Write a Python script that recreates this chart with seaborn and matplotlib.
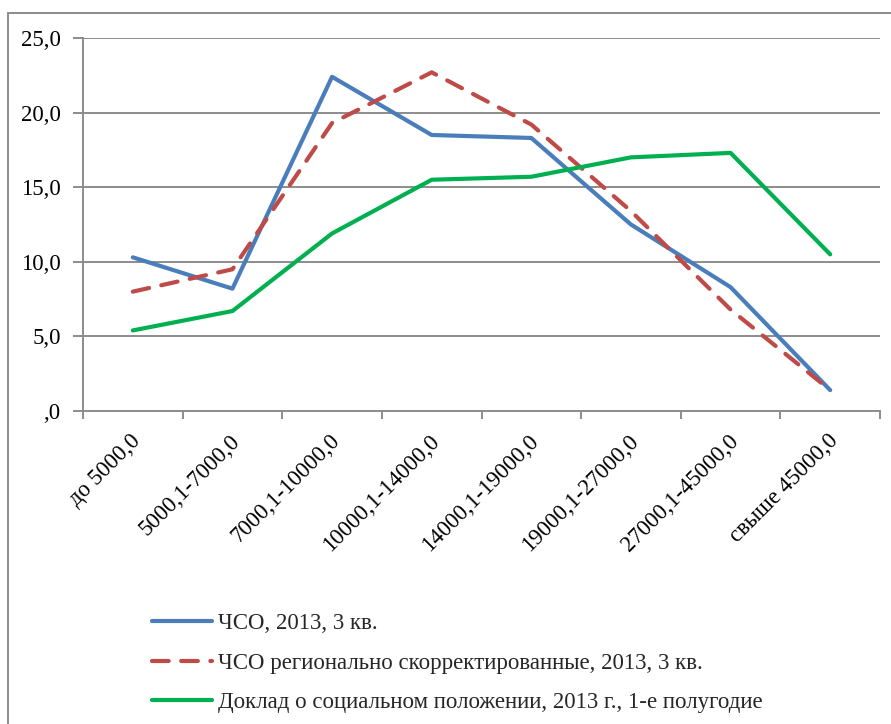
import numpy as np
import pandas as pd
import matplotlib
matplotlib.use("Agg")
import matplotlib.pyplot as plt
import matplotlib.transforms as mtransforms
from matplotlib.patches import Rectangle
import seaborn as sns

# -- Data ------------------------------------------------------------------
categories = ["до 5000,0", "5000,1-7000,0", "7000,1-10000,0", "10000,1-14000,0",
              "14000,1-19000,0", "19000,1-27000,0", "27000,1-45000,0", "свыше 45000,0"]
cso = [10.3, 8.2, 22.4, 18.5, 18.3, 12.5, 8.3, 1.4]
cso_reg = [8.0, 9.5, 19.3, 22.7, 19.2, 13.4, 6.8, 1.4]
doklad = [5.4, 6.7, 11.9, 15.5, 15.7, 17.0, 17.3, 10.5]
series_names = ["ЧСО, 2013, 3 кв.",
                "ЧСО регионально скорректированные, 2013, 3 кв.",
                "Доклад о социальном положении, 2013 г., 1-е полугодие"]
y_ticks = [0, 5, 10, 15, 20, 25]
y_tick_labels = [",0", "5,0", "10,0", "15,0", "20,0", "25,0"]

colors = ["#4A7EBB", "#BE4B48", "#00B050"]
GRID = "#8C8C8C"

sns.set_theme(style="white")
plt.rcParams["font.family"] = ["Liberation Serif", "DejaVu Serif"]

df = pd.DataFrame({"pos": np.arange(len(categories))})

fig = plt.figure(figsize=(8.91, 7.24), dpi=100)
ax = fig.add_axes([83 / 891, 1 - 411 / 724, (880 - 83) / 891, (411 - 38) / 724])

for vals, name, col in zip([cso, cso_reg, doklad], series_names, colors):
    sns.lineplot(x=df["pos"], y=vals, ax=ax, color=col, linewidth=3.0,
                 label=name, sort=False, legend=False)
line_red = ax.lines[1]
line_red.set_dashes((4, 3))
line_red.set_dash_capstyle("round")
for ln in ax.lines:
    ln.set_solid_capstyle("round")

ax.set_xlim(-0.5, len(categories) - 0.5)
ax.set_ylim(0, 25)
ax.set_xlabel("")
ax.set_ylabel("")
ax.set_yticks(y_ticks)
ax.set_yticklabels(y_tick_labels, fontsize=16.5)
ax.yaxis.grid(True, color=GRID, linewidth=1.4)
ax.set_axisbelow(True)

ax.set_xticks(np.arange(len(categories)))
ax.set_xticklabels(categories, rotation=45, ha="right", rotation_mode="anchor", fontsize=16.5)
ax.set_xticks(np.arange(-0.5, len(categories)), minor=True)
ax.tick_params(axis="x", which="major", length=0, pad=14)
ax.tick_params(axis="x", which="minor", length=6, width=1.4, color=GRID, direction="out", bottom=True)
ax.tick_params(axis="y", length=7, width=1.4, color=GRID, direction="out", left=True, pad=9, labelcolor="black")
offset = mtransforms.ScaledTranslation(-3 / 100, 0, fig.dpi_scale_trans)
for lbl in ax.get_xticklabels():
    lbl.set_transform(lbl.get_transform() + offset)
    lbl.set_color("black")

for s in ["top", "right"]:
    ax.spines[s].set_visible(False)
for s in ["left", "bottom"]:
    ax.spines[s].set_color(GRID)
    ax.spines[s].set_linewidth(1.4)

handles = ax.lines[:3]
leg = fig.legend(handles, series_names, loc="upper left",
                 bbox_to_anchor=(143 / 891, 1 - 604 / 724), frameon=False, borderaxespad=0,
                 fontsize=16.5, handlelength=2.6, handletextpad=0.26, labelspacing=0.8)

# outer chart frame
fig.patches.append(Rectangle((8 / 891, -0.05), 1.1, 1 - 13 / 724 + 0.05,
                             transform=fig.transFigure, fill=False,
                             edgecolor="#8C8C8C", linewidth=1.4))

fig.savefig("out.png", dpi=100)
